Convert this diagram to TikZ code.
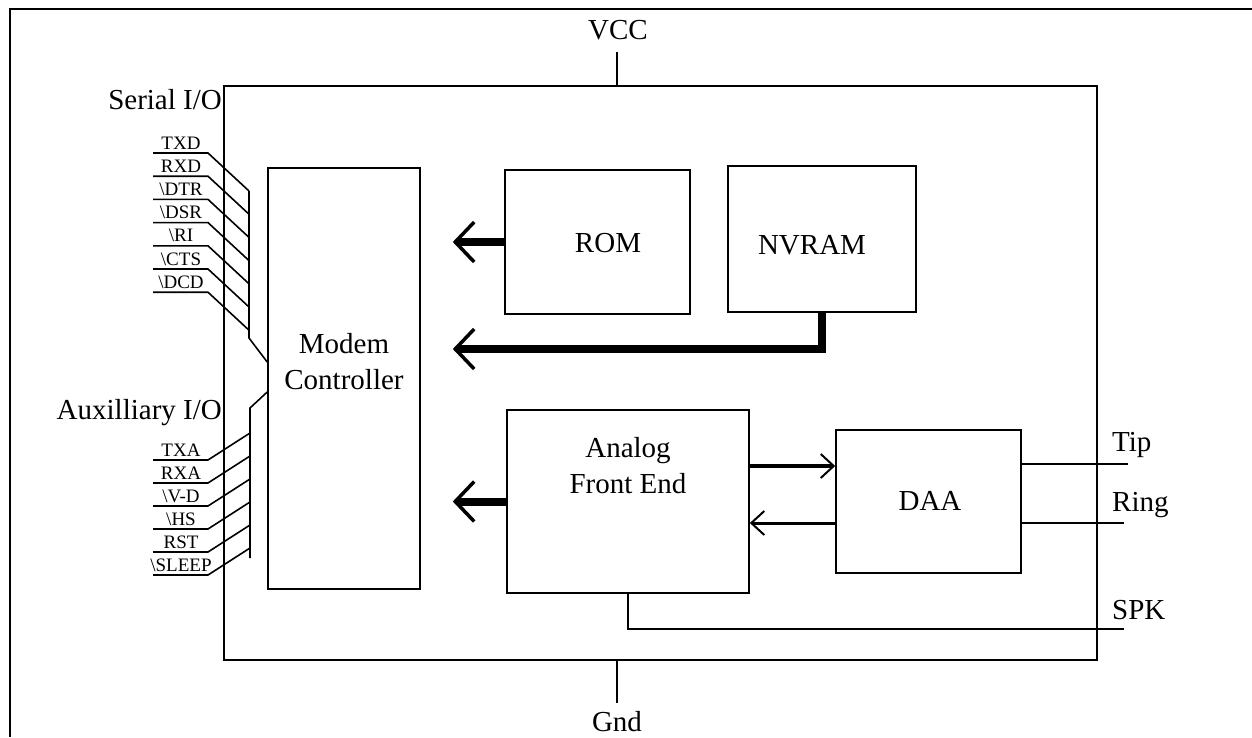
\documentclass[tikz,border=0pt]{standalone}
\usepackage{fontspec}
\setmainfont{Liberation Serif}
\usetikzlibrary{arrows.meta,calc}
\tikzset{
  box/.style={draw, line width=1.6pt, rectangle, inner sep=0pt, align=center,
    font=\fontsize{29}{33}\selectfont},
  wire/.style={line width=1.6pt},
  lbl/.style={inner sep=0pt, align=center, font=\fontsize{29}{36}\selectfont},
  pinlbl/.style={inner sep=1pt, anchor=base, font=\fontsize{19}{20}\selectfont},
  thickarr/.style={line width=8pt, shorten >=32pt,
    -{Straight Barb[line width=3.5pt, length=19pt, width=40pt]}},
  thinarr/.style={line width=#1,
    -{Straight Barb[line width=2pt, length=13pt, width=24pt]}},
}
\begin{document}
\begin{tikzpicture}[x=1pt,y=-1pt]
\useasboundingbox (0,0) rectangle (1252,737);
% outer frame
\coordinate (fa) at (10,737);
\coordinate (fb) at (10,9);
\coordinate (fc) at (1252,9);
\draw[line width=2pt] (fa) -- (fb) -- (fc);

% blocks
\node[box, minimum width=873pt, minimum height=574pt] (chip) at (660.5,373) {};
\node[box, minimum width=152pt, minimum height=421pt] (ctrl) at (344,378.5) {};
\node[lbl] (ctrlt) at (344,362) {Modem\\Controller};
\node[box, minimum width=185pt, minimum height=144pt] (rom) at (597.5,242) {};
\node[lbl] (romt) at (608,243) {ROM};
\node[box, minimum width=188pt, minimum height=146pt] (nvram) at (822,239) {};
\node[lbl] (nvramt) at (812,245) {NVRAM};
\node[box, minimum width=242pt, minimum height=183pt] (afe) at (628,501.5) {};
\node[lbl] (afet) at (628,466) {Analog\\Front End};
\node[box, minimum width=185pt, minimum height=143pt] (daa) at (928.5,501.5) {};
\node[lbl] (daat) at (930,501) {DAA};

% power
\node[lbl] (vcc) at (618,30) {VCC};
\node[lbl] (gnd) at (617,722) {Gnd};
\coordinate (vcct) at (617,52);
\coordinate (gndb) at (617,703);
\draw[wire] (vcct) -- (vcct |- chip.north);
\draw[wire] (gndb) -- (gndb |- chip.south);

% internal arrows
\draw[thickarr] (rom.west) -- (ctrl.east |- rom.west);
\draw[thickarr] (nvram.south) |- ($(ctrl.east)+(0,-29.5)$);
\draw[thickarr] (afe.west) -- (ctrl.east |- afe.west);
\draw[thinarr=4.5pt] ($(afe.east)+(0,-35.5)$) -- ($(daa.west)+(0,-35.5)$);
\draw[thinarr=3pt] ($(daa.west)+(0,21.5)$) -- ($(afe.east)+(0,21.5)$);

% line outputs
\coordinate (tipe) at (1128,464);
\coordinate (ringe) at (1124,523);
\coordinate (spke) at (1124,629);
\draw[wire] (daa.east |- tipe) -- (tipe);
\draw[wire] (daa.east |- ringe) -- (ringe);
\draw[wire] (afe.south) |- (spke);
\node[lbl, anchor=west] (tip) at (1112,445) {Tip};
\node[lbl, anchor=west] (ring) at (1112,505) {Ring};
\node[lbl, anchor=west] (spk) at (1112,610) {SPK};

% serial I/O
\node[lbl, anchor=east] (serial) at (222,100) {Serial I/O};
\coordinate (sbtop) at (249,191);
\coordinate (sbbot) at (249,338);
\coordinate (sbin) at (ctrl.west |- 0,362);
\draw[wire] (sbtop) -- (sbbot) -- (sbin);
\foreach \t [count=\i from 0] in {TXD,RXD,\textbackslash DTR,\textbackslash DSR,\textbackslash RI,\textbackslash CTS,\textbackslash DCD}{
  \pgfmathsetmacro{\h}{153+23.2*\i}
  \coordinate (sa\i) at (153,\h);
  \coordinate (sb\i) at (208,\h);
  \coordinate (sc\i) at (249,\h+38);
  \draw[wire] (sa\i) -- (sb\i) -- (sc\i);
  \node[pinlbl] (sl\i) at (181,\h-4) {\t};
}

% auxiliary I/O
\node[lbl, anchor=east] (aux) at (222,413) {Auxilliary I/O};
\coordinate (abin) at (ctrl.west |- 0,392);
\coordinate (abtop) at (250,408);
\coordinate (abbot) at (250,558);
\draw[wire] (abin) -- (abtop) -- (abbot);
\foreach \t [count=\i from 0] in {TXA,RXA,\textbackslash V-D,\textbackslash HS,RST,\textbackslash SLEEP}{
  \pgfmathsetmacro{\h}{460+23*\i}
  \coordinate (aa\i) at (153,\h);
  \coordinate (ab\i) at (208,\h);
  \coordinate (ac\i) at (250,\h-27);
  \draw[wire] (aa\i) -- (ab\i) -- (ac\i);
  \node[pinlbl] (al\i) at (181,\h-4) {\t};
}
\end{tikzpicture}
\end{document}
